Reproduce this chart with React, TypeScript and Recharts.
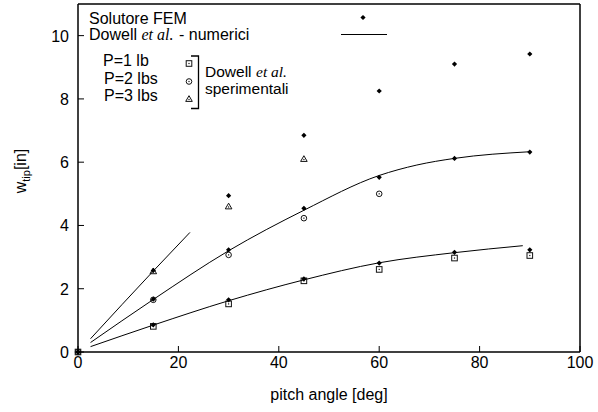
import { ComposedChart, Line, Scatter, XAxis, YAxis } from "recharts";

// ── Data ────────────────────────────────────────────────────────────────
const ANGLES = [0, 15, 30, 45, 60, 75, 90];

// FEM solver (filled diamonds)
const FEM_P1 = [0, 0.86, 1.65, 2.31, 2.81, 3.15, 3.23];
const FEM_P2 = [0, 1.67, 3.23, 4.54, 5.52, 6.12, 6.32];
const FEM_P3 = [0, 2.58, 4.94, 6.85, 8.25, 9.1, 9.42];

// Dowell et al. experiments
const EXP_P1_ANGLES = [0, 15, 30, 45, 60, 75, 90];
const EXP_P1 = [0, 0.81, 1.52, 2.25, 2.61, 2.97, 3.05];
const EXP_P2_ANGLES = [0, 15, 30, 45, 60];
const EXP_P2 = [0, 1.65, 3.07, 4.23, 5.0];
const EXP_P3_ANGLES = [15, 30, 45];
const EXP_P3 = [2.55, 4.6, 6.1];

// Dowell et al. numerical curves
const NUM_P1_ANGLES = [2.5, 15, 30, 45, 60, 75, 88.6];
const NUM_P1 = [0.17, 0.85, 1.62, 2.28, 2.82, 3.14, 3.36];
const NUM_P2_ANGLES = [2.5, 15, 30, 45, 60, 67.5, 75, 90];
const NUM_P2 = [0.3, 1.66, 3.2, 4.48, 5.58, 5.91, 6.12, 6.33];
const NUM_P3_ANGLES = [2.5, 15, 22.3];
const NUM_P3 = [0.42, 2.56, 3.78];

const X_TICKS = [0, 20, 40, 60, 80, 100];
const Y_TICKS = [0, 2, 4, 6, 8, 10];

const FONT = "'Liberation Sans', Arial, Helvetica, sans-serif";
const SERIF = "'Liberation Serif', 'Times New Roman', serif";
const TICK_LEN = 6;

const pts = (xs: number[], ys: number[]) => xs.map((x, i) => ({ x, y: ys[i] }));

// ── Point shapes (gnuplot style) ────────────────────────────────────────
function Diamond({ cx, cy }: any) {
  const s = 2.6;
  return (
    <polygon
      points={`${cx},${cy - s} ${cx + s},${cy} ${cx},${cy + s} ${cx - s},${cy}`}
      fill="#000"
    />
  );
}

function Square({ cx, cy }: any) {
  return (
    <g>
      <rect x={cx - 2.8} y={cy - 2.8} width={5.6} height={5.6} fill="none" stroke="#111" strokeWidth={1} />
      <rect x={cx - 0.6} y={cy - 0.6} width={1.2} height={1.2} fill="#111" />
    </g>
  );
}

function Circle({ cx, cy }: any) {
  return (
    <g>
      <circle cx={cx} cy={cy} r={2.8} fill="none" stroke="#111" strokeWidth={1} />
      <rect x={cx - 0.6} y={cy - 0.6} width={1.2} height={1.2} fill="#111" />
    </g>
  );
}

function Triangle({ cx, cy }: any) {
  return (
    <g>
      <polygon
        points={`${cx},${cy - 3.3} ${cx + 3.3},${cy + 2.4} ${cx - 3.3},${cy + 2.4}`}
        fill="none"
        stroke="#111"
        strokeWidth={1}
      />
      <rect x={cx - 0.6} y={cy - 0.1} width={1.2} height={1.2} fill="#111" />
    </g>
  );
}

// ── Ticks: inward marks + labels ────────────────────────────────────────
function BottomTick({ x, y, payload }: any) {
  return (
    <g>
      <line x1={x} y1={y} x2={x} y2={y - TICK_LEN} stroke="#000" />
      <text x={x} y={y + 16} textAnchor="middle" fontSize={16} fontFamily={FONT} fill="#000">
        {payload.value}
      </text>
    </g>
  );
}

function TopTick({ x, y }: any) {
  return <line x1={x} y1={y} x2={x} y2={y + TICK_LEN} stroke="#000" />;
}

function LeftTick({ x, y, payload }: any) {
  return (
    <g>
      <line x1={x} y1={y} x2={x + TICK_LEN} y2={y} stroke="#000" />
      <text x={x - 9} y={y + 6} textAnchor="end" fontSize={16} fontFamily={FONT} fill="#000">
        {payload.value}
      </text>
    </g>
  );
}

function RightTick({ x, y }: any) {
  return <line x1={x} y1={y} x2={x - TICK_LEN} y2={y} stroke="#000" />;
}

function YLabel({ viewBox }: any) {
  const cx = viewBox.x + 26;
  const cy = viewBox.y + viewBox.height / 2 - 7;
  return (
    <text
      x={cx}
      y={cy}
      transform={`rotate(-90, ${cx}, ${cy})`}
      textAnchor="middle"
      fontSize={16}
      fontFamily={FONT}
      fill="#000"
    >
      w
      <tspan dy={4} fontSize={11}>
        tip
      </tspan>
      <tspan dy={-4}>[in]</tspan>
    </text>
  );
}

// ── Key (drawn over the plot, top-left) ─────────────────────────────────
// "Dowell " is ~52.4px wide at 16px sans, "et al." ~32px in italic serif
function Key() {
  const t = { fontSize: 16, fontFamily: FONT, fill: "#000" };
  const it = { fontSize: 16, fontFamily: SERIF, fontStyle: "italic", fill: "#000" };
  const s = { fontSize: 15.5, fontFamily: FONT, fill: "#000" };
  const si = { fontSize: 15.5, fontFamily: SERIF, fontStyle: "italic", fill: "#000" };
  return (
    <svg width={598} height={412} style={{ position: "absolute", left: 0, top: 0, pointerEvents: "none" }}>
      <text x={89} y={24} {...t}>
        Solutore FEM
      </text>
      <Diamond cx={363} cy={17.5} />
      <text x={89} y={40} {...t}>Dowell</text>
      <text x={141.5} y={40} {...it}>et al.</text>
      <text x={179} y={40} {...t}>- numerici</text>
      <line x1={341} y1={34.5} x2={387} y2={34.5} stroke="#000" />

      <text x={103} y={66} {...t}>P=1 lb</text>
      <text x={104} y={84} {...t}>P=2 lbs</text>
      <text x={104} y={101} {...t}>P=3 lbs</text>
      <Square cx={189} cy={63.5} />
      <Circle cx={189} cy={81.5} />
      <Triangle cx={189} cy={99} />
      <polyline points="191,56 198.5,56 198.5,108.5 191,108.5" fill="none" stroke="#000" strokeWidth={1.3} />
      <text x={205} y={76.5} {...s}>Dowell</text>
      <text x={256} y={76.5} {...si}>et al.</text>
      <text x={205} y={94} {...s}>sperimentali</text>
    </svg>
  );
}

export default function App() {
  return (
    <div style={{ position: "absolute", left: 0, top: 0, width: 598, height: 412, background: "#fff" }}>
      <ComposedChart width={598} height={412} margin={{ top: 0, right: 0, bottom: 0, left: 0 }}>
        <XAxis
          xAxisId="b"
          dataKey="x"
          type="number"
          domain={[0, 100]}
          ticks={X_TICKS}
          height={60}
          tickSize={0}
          tickMargin={0}
          tickLine={false}
          axisLine={{ stroke: "#000", strokeWidth: 1.5 }}
          tick={<BottomTick />}
          label={{ value: "pitch angle [deg]", position: "insideBottom", offset: 12, fill: "#000", fontSize: 16, fontFamily: FONT }}
        />
        <XAxis
          xAxisId="t"
          orientation="top"
          dataKey="x"
          type="number"
          domain={[0, 100]}
          ticks={X_TICKS}
          height={4}
          tickSize={0}
          tickMargin={0}
          tickLine={false}
          axisLine={{ stroke: "#000", strokeWidth: 1.5 }}
          tick={<TopTick />}
        />
        <YAxis
          yAxisId="l"
          type="number"
          domain={[0, 11]}
          ticks={Y_TICKS}
          width={78}
          tickSize={0}
          tickMargin={0}
          tickLine={false}
          axisLine={{ stroke: "#000", strokeWidth: 1.5 }}
          tick={<LeftTick />}
          label={<YLabel />}
        />
        <YAxis
          yAxisId="r"
          orientation="right"
          type="number"
          domain={[0, 11]}
          ticks={Y_TICKS}
          width={18}
          tickSize={0}
          tickMargin={0}
          tickLine={false}
          axisLine={{ stroke: "#000", strokeWidth: 1.5 }}
          tick={<RightTick />}
        />

        <Line xAxisId="b" yAxisId="l" data={pts(NUM_P1_ANGLES, NUM_P1)} dataKey="y" type="monotone" stroke="#000" strokeWidth={1} dot={false} isAnimationActive={false} />
        <Line xAxisId="b" yAxisId="l" data={pts(NUM_P2_ANGLES, NUM_P2)} dataKey="y" type="monotone" stroke="#000" strokeWidth={1} dot={false} isAnimationActive={false} />
        <Line xAxisId="b" yAxisId="l" data={pts(NUM_P3_ANGLES, NUM_P3)} dataKey="y" type="monotone" stroke="#000" strokeWidth={1} dot={false} isAnimationActive={false} />

        <Scatter xAxisId="b" yAxisId="l" data={pts(EXP_P1_ANGLES, EXP_P1)} dataKey="y" shape={<Square />} isAnimationActive={false} />
        <Scatter xAxisId="b" yAxisId="l" data={pts(EXP_P2_ANGLES, EXP_P2)} dataKey="y" shape={<Circle />} isAnimationActive={false} />
        <Scatter xAxisId="b" yAxisId="l" data={pts(EXP_P3_ANGLES, EXP_P3)} dataKey="y" shape={<Triangle />} isAnimationActive={false} />

        <Scatter xAxisId="b" yAxisId="l" data={pts(ANGLES, FEM_P1)} dataKey="y" shape={<Diamond />} isAnimationActive={false} />
        <Scatter xAxisId="b" yAxisId="l" data={pts(ANGLES, FEM_P2)} dataKey="y" shape={<Diamond />} isAnimationActive={false} />
        <Scatter xAxisId="b" yAxisId="l" data={pts(ANGLES, FEM_P3)} dataKey="y" shape={<Diamond />} isAnimationActive={false} />
      </ComposedChart>
      <Key />
    </div>
  );
}
